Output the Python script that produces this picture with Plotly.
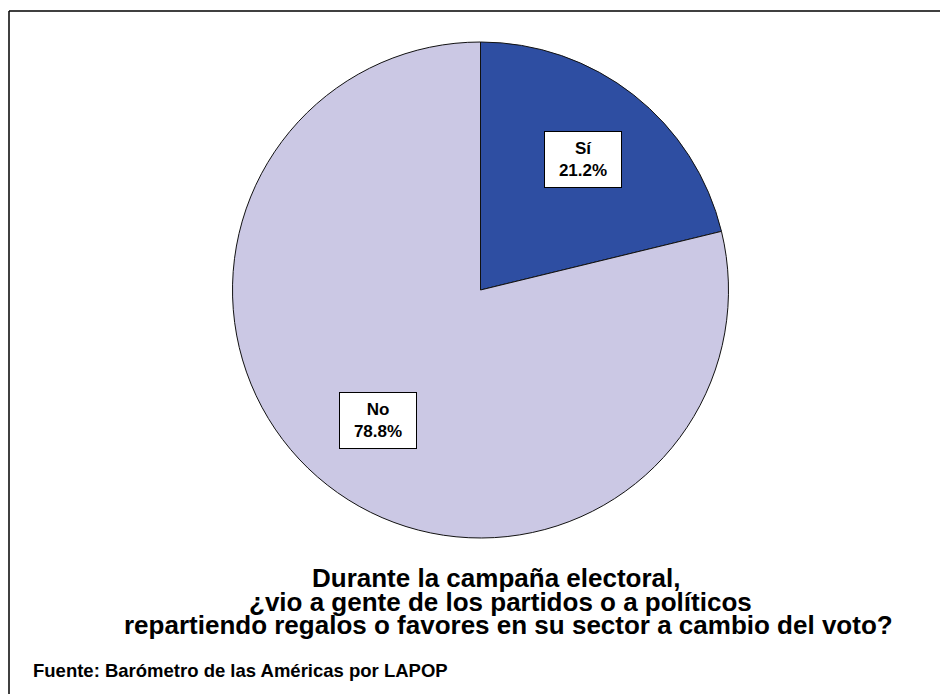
import math
import plotly.graph_objects as go

labels = ["Sí", "No"]
values = [21.2, 78.8]
colors = ["#2E4EA2", "#CBC8E4"]
title_lines = [
    "Durante la campaña electoral,",
    "¿vio a gente de los partidos o a políticos",
    "repartiendo regalos o favores en su sector a cambio del voto?",
]
source = "Fuente: Barómetro de las Américas por LAPOP"

W, H = 940, 694
cx, cy, R = 480.5, 290, 248
FONT = "Liberation Sans, Arial"

fig = go.Figure()
fig.add_trace(go.Pie(
    labels=labels, values=values, sort=False, direction="clockwise", rotation=0,
    marker=dict(colors=colors, line=dict(color="#111111", width=1)),
    textinfo="none", hoverinfo="label+percent", showlegend=False,
    domain=dict(x=[(cx - R) / W, (cx + R) / W], y=[(H - cy - R) / H, (H - cy + R) / H]),
))

total = sum(values)
start = 0.0
for lab, v in zip(labels, values):
    mid = (start + v / 2) / total * 2 * math.pi
    start += v
    r = 0.67 * R
    px = cx + r * math.sin(mid)
    py = cy - r * math.cos(mid)
    fig.add_annotation(
        x=px / W, y=1 - py / H, xref="paper", yref="paper",
        xanchor="center", yanchor="middle",
        text=f"<b>{lab}<br>{v:.1f}%</b>", showarrow=False,
        font=dict(family=FONT, size=17, color="black"),
        bgcolor="white", bordercolor="black", borderwidth=1, borderpad=2,
        width=72, height=51, align="center",
    )

title_pos = [(496, 578), (500, 602), (508, 625)]
for line, (tx, ty) in zip(title_lines, title_pos):
    fig.add_annotation(
        x=tx / W, y=1 - ty / H, xref="paper", yref="paper", text=f"<b>{line}</b>",
        showarrow=False, xanchor="center", yanchor="middle",
        font=dict(family=FONT, size=26, color="black"),
    )

fig.add_annotation(
    x=31 / W, y=1 - 670 / H, xref="paper", yref="paper", text=f"<b>{source}</b>",
    showarrow=False, xanchor="left", yanchor="middle",
    font=dict(family=FONT, size=18.5, color="black"),
)

fig.add_shape(type="line", xref="paper", yref="paper", x0=9 / W, x1=1, y0=1 - 11 / H, y1=1 - 11 / H,
              line=dict(color="black", width=1.5))
fig.add_shape(type="line", xref="paper", yref="paper", x0=9 / W, x1=9 / W, y0=1 - 11 / H, y1=0,
              line=dict(color="black", width=1.5))

fig.update_layout(
    width=W, height=H, margin=dict(l=0, r=0, t=0, b=0),
    paper_bgcolor="white", plot_bgcolor="white",
)
fig.write_html("out.html", config={"displayModeBar": False},
               post_script="document.body.style.margin='0';document.body.style.overflow='hidden';")
